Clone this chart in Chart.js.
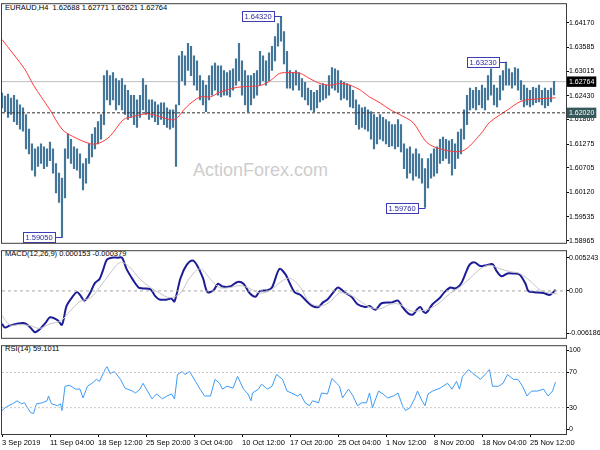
<!DOCTYPE html>
<html>
<head>
<meta charset="utf-8">
<script src="https://cdn.jsdelivr.net/npm/chart.js@4.4.1/dist/chart.umd.min.js"></script>
<style>
body { margin: 0; background: #fff; }
#wrap { position: relative; width: 600px; height: 450px; overflow: hidden; font-family: "Liberation Sans", Arial, sans-serif; }
.lbl { position: absolute; font-size: 7.5px; line-height: 9px; color: #000; white-space: nowrap; }
#marca { position: absolute; left: 193px; top: 160px; font-size: 18px; line-height: 20px; color: #cdcdcd; white-space: nowrap; }
canvas { position: absolute; left: 0; }
</style>
</head>
<body>
<div id="wrap">
  <div class="lbl" style="left:5px;top:3px">EURAUD,H4&nbsp; 1.62688 1.62771 1.62621 1.62764</div>
  <div id="marca">ActionForex.com</div>
  <div class="lbl" style="left:5px;top:249px">MACD(12,26,9) 0.000153 -0.000379</div>
  <div class="lbl" style="left:5px;top:344px">RSI(14) 59.1011</div>
  <canvas id="cPrecio" width="600" height="247" style="top:0"></canvas>
  <canvas id="cMacd" width="600" height="95" style="top:247px"></canvas>
  <canvas id="cRsi" width="600" height="108" style="top:342px"></canvas>
</div>
<script>
// ---- datos (barras H4 agrupadas de 2 en 2) ----
const altos = [1.6249,1.6242,1.6247,1.6237,1.6244,1.6233,1.6221,1.6214,1.6198,1.6163,
  1.6128,1.6116,1.6121,1.6128,1.6121,1.6116,1.6132,1.6116,1.6081,1.6058,
  1.6046,1.6116,1.6151,1.6139,1.6121,1.6116,1.6104,1.6081,1.6093,1.6128,
  1.6151,1.6167,1.6181,1.6198,1.6291,1.6303,1.6291,1.6298,1.6284,1.6279,
  1.6284,1.6268,1.6256,1.6244,1.6244,1.6233,1.6244,1.6284,1.6268,1.6233,
  1.6233,1.6228,1.6221,1.6226,1.6226,1.6214,1.6209,1.6209,1.6221,1.6338,
  1.6349,1.6338,1.6368,1.6361,1.6338,1.6326,1.6291,1.6279,1.6268,1.6291,
  1.6314,1.6321,1.6314,1.6314,1.6303,1.6298,1.6303,1.6307,1.6331,1.6368,
  1.6326,1.6303,1.6291,1.6291,1.6296,1.6303,1.6349,1.6338,1.6326,1.6345,
  1.6361,1.6384,1.6415,1.6432,1.6396,1.6349,1.6303,1.6298,1.6303,1.6298,
  1.6284,1.6275,1.6261,1.6256,1.6251,1.6256,1.6268,1.6272,1.6268,1.6291,
  1.6310,1.6307,1.6303,1.6279,1.6275,1.6272,1.6268,1.6256,1.6233,1.6221,
  1.6214,1.6216,1.6209,1.6205,1.6198,1.6191,1.6198,1.6191,1.6186,1.6181,
  1.6174,1.6174,1.6186,1.6174,1.6128,1.6116,1.6121,1.6104,1.6116,1.6104,
  1.6093,1.6069,1.6093,1.6104,1.6116,1.6121,1.6139,1.6144,1.6139,1.6135,
  1.6139,1.6128,1.6156,1.6163,1.6209,1.6244,1.6261,1.6256,1.6263,1.6256,
  1.6268,1.6261,1.6291,1.6307,1.6268,1.6261,1.6291,1.6303,1.6323,1.6307,
  1.6298,1.6310,1.6307,1.6279,1.6268,1.6261,1.6256,1.6263,1.6261,1.6268,
  1.6256,1.6261,1.6256,1.6261,1.6277];
const bajos = [1.6214,1.6205,1.6191,1.6198,1.6181,1.6174,1.6163,1.6158,1.6116,1.6104,
  1.6065,1.6051,1.6074,1.6081,1.6069,1.6074,1.6088,1.6058,1.6011,1.5988,
  1.5905,1.5999,1.6093,1.6081,1.6069,1.6065,1.6046,1.6018,1.6034,1.6081,
  1.6097,1.6116,1.6128,1.6139,1.6174,1.6233,1.6221,1.6233,1.6209,1.6221,
  1.6209,1.6198,1.6186,1.6191,1.6174,1.6167,1.6191,1.6209,1.6198,1.6186,
  1.6191,1.6181,1.6174,1.6186,1.6174,1.6167,1.6163,1.6167,1.6074,1.6221,
  1.6279,1.6268,1.6303,1.6291,1.6268,1.6256,1.6233,1.6221,1.6205,1.6233,
  1.6244,1.6256,1.6244,1.6240,1.6244,1.6244,1.6240,1.6256,1.6268,1.6279,
  1.6244,1.6221,1.6205,1.6221,1.6237,1.6244,1.6268,1.6279,1.6268,1.6279,
  1.6303,1.6326,1.6361,1.6373,1.6319,1.6261,1.6261,1.6256,1.6268,1.6256,
  1.6240,1.6233,1.6221,1.6209,1.6205,1.6214,1.6228,1.6233,1.6237,1.6244,
  1.6261,1.6256,1.6251,1.6233,1.6237,1.6233,1.6216,1.6214,1.6174,1.6163,
  1.6167,1.6163,1.6158,1.6139,1.6116,1.6128,1.6139,1.6135,1.6128,1.6121,
  1.6123,1.6116,1.6121,1.6109,1.6069,1.6046,1.6058,1.6041,1.6051,1.6046,
  1.6034,1.5976,1.6023,1.6046,1.6051,1.6058,1.6081,1.6088,1.6093,1.6081,
  1.6053,1.6069,1.6093,1.6104,1.6139,1.6174,1.6209,1.6214,1.6209,1.6221,
  1.6214,1.6209,1.6233,1.6244,1.6221,1.6216,1.6233,1.6256,1.6268,1.6268,
  1.6261,1.6268,1.6256,1.6233,1.6216,1.6221,1.6216,1.6221,1.6226,1.6228,
  1.6221,1.6214,1.6219,1.6228,1.6245];

// media movil (indice de barra H4, valor)
const mediaIdx = [0,15,21,32,40,47,59,65,72,81,87,97,105,115,123,132,139,145,157,165,173,179,185,192,199,205,212,219,225,232,239,245,252,259,265,274,283,292,307,319,325,337,345,350,369];
const mediaVal = [1.6377,1.6307,1.6268,1.6209,1.6163,1.6146,1.6128,1.6130,1.6146,1.6186,1.6193,1.6200,1.6193,1.6186,1.6216,1.6240,1.6240,1.6251,1.6263,1.6265,1.6268,1.6279,1.6296,1.6298,1.6296,1.6284,1.6272,1.6268,1.6272,1.6268,1.6256,1.6240,1.6226,1.6209,1.6198,1.6179,1.6132,1.6116,1.6111,1.6151,1.6179,1.6209,1.6228,1.6233,1.6238];

const precioActual = 1.62764;
const soporte = 1.62020;
const precioTicks = [1.64170,1.63585,1.63015,1.62430,1.61860,1.61275,1.60705,1.60120,1.59535,1.58965];

// extremos marcados
const extremosIdx = [40, 186, 282, 336];
const extremosVal = [1.59050, 1.64320, 1.59760, 1.63230];

// MACD
const macdIdx = [0,2,5,10,14,17,20,22,25,29,32,37,40,43,47,50,52,55,59,62,65,67,70,73,77,80,83,87,91,94,99,102,105,110,113,115,119,123,127,130,134,137,141,144,147,152,157,161,165,169,172,177,180,185,189,192,195,199,202,207,211,214,217,221,224,229,233,237,242,245,249,253,260,264,267,271,274,277,279,281,283,287,292,295,299,302,305,307,310,312,315,319,323,327,330,333,337,341,345,349,351,355,361,365,367,369];
const macdVal = [-0.00434,-0.00483,-0.00458,-0.00434,-0.00422,-0.00446,-0.00508,-0.00544,-0.00508,-0.00422,-0.00348,-0.00385,-0.00446,-0.00200,-0.00077,-0.00016,-0.00053,-0.00127,-0.00016,0.00107,0.00156,0.00254,0.00414,0.00439,0.00439,0.00439,0.00291,0.00156,0.00045,0.00033,0.00021,-0.00065,-0.00114,-0.00114,-0.00102,-0.00139,0.00168,0.00340,0.00402,0.00340,0.00168,-0.00016,0.00009,0.00095,0.00058,0.00058,0.00119,0.00095,-0.00028,-0.00077,-0.00004,0.00009,0.00045,0.00291,0.00218,0.00095,-0.00016,-0.00053,-0.00114,-0.00200,-0.00213,-0.00151,-0.00114,-0.00016,0.00045,-0.00028,-0.00077,-0.00176,-0.00213,-0.00200,-0.00249,-0.00163,-0.00151,-0.00127,-0.00213,-0.00299,-0.00311,-0.00237,-0.00213,-0.00274,-0.00286,-0.00176,-0.00090,-0.00016,0.00045,0.00033,0.00070,0.00132,0.00279,0.00353,0.00377,0.00328,0.00340,0.00353,0.00254,0.00193,0.00230,0.00230,0.00218,0.00095,-0.00004,-0.00016,-0.00028,-0.00053,-0.00028,0.00015];
const senalIdx = [0,5,12,19,25,32,39,45,52,59,65,72,79,85,92,99,105,112,119,125,132,139,145,152,159,165,172,179,185,192,199,205,212,219,225,232,239,245,252,259,265,272,279,285,292,299,305,312,319,325,332,339,345,352,359,365,370];
const senalVal = [-0.00324,-0.00446,-0.00446,-0.00458,-0.00495,-0.00434,-0.00397,-0.00274,-0.00139,-0.00090,0.00045,0.00230,0.00377,0.00316,0.00156,0.00045,-0.00028,-0.00090,-0.00028,0.00168,0.00291,0.00156,0.00045,0.00045,0.00070,0.00033,-0.00028,0.00009,0.00107,0.00168,0.00045,-0.00151,-0.00200,-0.00139,-0.00028,-0.00053,-0.00139,-0.00213,-0.00237,-0.00176,-0.00176,-0.00262,-0.00262,-0.00237,-0.00151,-0.00028,0.00045,0.00168,0.00291,0.00340,0.00291,0.00254,0.00230,0.00132,0.00009,-0.00028,-0.00038];
const macdTickAt = [0.00438, 0, -0.00557];
const macdTickTxt = ['0.005243', '0.00', '-0.006186'];

// RSI
const rsiIdx = [0,3,7,10,13,15,19,21,23,27,30,31,33,37,39,40,42,45,49,52,54,57,60,63,65,69,70,72,75,79,82,87,89,92,94,97,100,103,107,110,113,115,117,120,122,125,129,132,135,139,142,145,147,150,154,157,161,164,166,167,171,173,177,180,183,187,190,193,197,199,202,205,207,211,213,217,220,223,225,227,231,234,237,240,243,245,247,251,254,257,261,264,267,269,272,275,277,280,282,284,287,292,297,300,303,305,307,311,314,319,322,325,327,331,334,337,341,344,347,350,353,357,361,364,367,369];
const rsiVal = [26.7,31.1,34.4,37.8,34.4,35.6,24.4,23.3,34.4,35.6,37.8,43.3,34.4,32.2,34.4,26.7,54.4,55.6,51.1,51.1,41.1,54.4,57.8,62.2,60,74.4,76.7,68.9,71.1,62.2,52.2,48.9,46.7,51.1,57.8,48.9,40,45.6,40,43.3,45.6,40,67.8,71.1,67.8,71.1,60,51.1,43.3,43.3,62.2,57.8,51.1,54.4,52.2,65.6,51.1,45.6,37.8,46.7,51.1,56.7,51.1,54.4,67.8,62.2,48.9,46.7,43.3,45.6,35.6,32.2,37.8,35.6,46.7,45.6,63.3,57.8,54.4,41.1,51.1,43.3,32.2,35.6,35.6,46.7,30,48.9,45.6,41.1,43.3,46.7,32.2,26.7,30,40,48.9,37.8,32.2,45.6,48.9,52.2,57.8,51.1,60,51.1,65.6,73.3,68.9,62.2,67.8,73.3,54.4,54.4,57.8,67.8,62.2,62.2,54.4,43.3,48.9,48.9,51.1,43.3,48.9,59.1];
const rsiNiveles = [70, 30];
const rsiTickAt = [95.5, 70, 30, 5.5];
const rsiTickTxt = ['100', '70', '30', '0'];

// eje de tiempo
const fechaIdx = [0,32,64,96,128,160,192,224,256,288,320,352];
const fechas = ['3 Sep 2019','11 Sep 04:00','18 Sep 12:00','25 Sep 20:00','3 Oct 04:00','10 Oct 12:00','17 Oct 20:00','25 Oct 04:00','1 Nov 12:00','8 Nov 20:00','18 Nov 04:00','25 Nov 12:00'];
const xMax = 376;

// ---- graficos ----
Chart.defaults.font.family = '"Liberation Sans", Arial, sans-serif';
Chart.defaults.font.size = 7;
Chart.defaults.color = '#000';

function pares(idx, val) {
    return idx.map((x, n) => ({ x: x, y: val[n] }));
}

function horizontal(v) {
    return [{ x: 0, y: v }, { x: xMax, y: v }];
}

const marco = {
    id: 'marco',
    afterDraw(chart) {
        const { ctx, chartArea: a } = chart;
        ctx.save();
        ctx.strokeStyle = '#3c3c3c';
        ctx.lineWidth = 1;
        ctx.strokeRect(a.left - 0.5, a.top - 0.5, a.right - a.left + 1, a.bottom - a.top + 1);
        ctx.restore();
    }
};

const etiquetas = {
    id: 'etiquetas',
    afterDatasetsDraw(chart) {
        const { ctx, scales: { x, y } } = chart;
        ctx.save();
        ctx.font = '7.5px "Liberation Sans", Arial, sans-serif';
        ctx.textBaseline = 'middle';
        ctx.lineWidth = 1;
        extremosIdx.forEach((idx, n) => {
            const px = Math.round(x.getPixelForValue(idx)) + 0.5;
            const py = Math.round(y.getPixelForValue(extremosVal[n])) + 0.5;
            const txt = extremosVal[n].toFixed(5);
            const w = Math.ceil(ctx.measureText(txt).width) + 4;
            const der = px - 7;
            ctx.fillStyle = '#fff';
            ctx.fillRect(der - w, py - 5, w, 10);
            ctx.strokeStyle = '#3c3cb4';
            ctx.strokeRect(der - w, py - 5, w, 10);
            ctx.beginPath();
            ctx.moveTo(der, py);
            ctx.lineTo(px, py);
            ctx.stroke();
            ctx.fillStyle = '#2a2a9c';
            ctx.fillText(txt, der - w + 2, py + 0.5);
        });
        ctx.restore();
    }
};

function ejeX(visible) {
    const eje = {
        type: 'linear', min: 0, max: xMax, offset: false, display: visible,
        afterBuildTicks: s => { s.ticks = fechaIdx.map(v => ({ value: v })); },
        ticks: { align: 'start', maxRotation: 0, autoSkip: false, padding: 1, font: { size: 7.5 }, callback: (v, i) => fechas[i] },
        grid: { drawOnChartArea: false, tickLength: 3, color: '#000' },
        border: { display: false }
    };
    if (visible) eje.afterFit = s => { s.height = 16; };
    return eje;
}

function ejeY(extra) {
    return Object.assign({
        position: 'right',
        afterFit: s => { s.width = 34; },
        grid: { drawOnChartArea: false, tickLength: 3, color: '#000' },
        border: { display: false }
    }, extra);
}

const base = {
    responsive: false, animation: false, devicePixelRatio: 1,
    plugins: { legend: { display: false }, tooltip: { enabled: false } }
};

// precio
new Chart(document.getElementById('cPrecio'), {
    type: 'bar',
    data: {
        datasets: [
            { type: 'line', data: horizontal(precioActual), borderColor: '#bdbdbd', borderWidth: 1, pointRadius: 0, order: 5 },
            { data: altos.map((h, k) => ({ x: 2 * k, y: [bajos[k], h] })), backgroundColor: '#44769a', barThickness: 1.5, order: 3 },
            { type: 'line', data: pares(mediaIdx, mediaVal), borderColor: '#ff3b3b', borderWidth: 1, pointRadius: 0, tension: 0.3, order: 2 },
            { type: 'line', data: horizontal(soporte), borderColor: '#2e2e2e', borderWidth: 1, borderDash: [3, 2], pointRadius: 0, order: 1 }
        ]
    },
    options: Object.assign({}, base, {
        layout: { padding: { left: 2, top: 2, bottom: 1, right: 0 } },
        scales: {
            x: ejeX(false),
            y: ejeY({
                min: 1.58918, max: 1.64613,
                afterBuildTicks: s => { s.ticks = precioTicks.concat([soporte, precioActual]).map(v => ({ value: v })); },
                ticks: {
                    autoSkip: false, padding: 0,
                    callback: v => v.toFixed(5),
                    color: c => (c.tick && (c.tick.value === precioActual || c.tick.value === soporte)) ? '#fff' : '#000',
                    showLabelBackdrop: c => !!(c.tick && (c.tick.value === precioActual || c.tick.value === soporte)),
                    backdropColor: c => (c.tick && c.tick.value === precioActual) ? '#000' : '#36585a',
                    backdropPadding: { x: 2, y: 1 }
                }
            })
        }
    }),
    plugins: [marco, etiquetas]
});

// MACD
new Chart(document.getElementById('cMacd'), {
    type: 'line',
    data: {
        datasets: [
            { data: horizontal(0), borderColor: '#a8a8a8', borderWidth: 1, borderDash: [3, 3], pointRadius: 0 },
            { data: pares(senalIdx, senalVal), borderColor: '#c4c4c4', borderWidth: 1, pointRadius: 0, tension: 0.35 },
            { data: pares(macdIdx, macdVal), borderColor: '#1c1c96', borderWidth: 2, pointRadius: 0, tension: 0.3 }
        ]
    },
    options: Object.assign({}, base, {
        layout: { padding: { left: 2, top: 1, bottom: 1, right: 0 } },
        scales: {
            x: ejeX(false),
            y: ejeY({
                min: -0.006186, max: 0.005243,
                afterBuildTicks: s => { s.ticks = macdTickAt.map(v => ({ value: v })); },
                ticks: { autoSkip: false, padding: 0, callback: (v, i) => macdTickTxt[i] }
            })
        }
    }),
    plugins: [marco]
});

// RSI
new Chart(document.getElementById('cRsi'), {
    type: 'line',
    data: {
        datasets: rsiNiveles.map(n => ({ data: horizontal(n), borderColor: '#c8c8c8', borderWidth: 1, borderDash: [2, 2], pointRadius: 0 }))
            .concat([{ data: pares(rsiIdx, rsiVal), borderColor: '#3d9bf5', borderWidth: 1, pointRadius: 0 }])
    },
    options: Object.assign({}, base, {
        layout: { padding: { left: 2, top: 1, bottom: 0, right: 0 } },
        scales: {
            x: ejeX(true),
            y: ejeY({
                min: 0, max: 100,
                afterBuildTicks: s => { s.ticks = rsiTickAt.map(v => ({ value: v })); },
                ticks: { autoSkip: false, padding: 0, callback: (v, i) => rsiTickTxt[i] }
            })
        }
    }),
    plugins: [marco]
});
</script>
</body>
</html>
